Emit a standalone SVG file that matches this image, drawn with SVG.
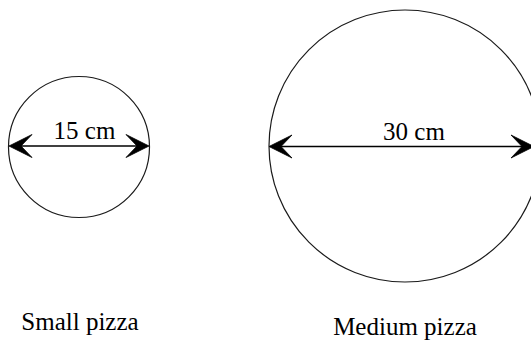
<svg xmlns="http://www.w3.org/2000/svg" width="531" height="341" viewBox="0 0 531 341">
<style>
.circ{fill:none;stroke:#1a1a1a;stroke-width:1.2}
.dim{stroke:#000;stroke-width:1.5;fill:none}
.head{fill:#000;stroke:#000;stroke-width:0.8;stroke-linejoin:miter}
text{font-family:"Liberation Serif","Times New Roman",serif;font-size:25px;fill:#000}
</style>
<defs>
<path id="ah" class="head" d="M0,0 L23,-11.5 L12,0 L23,11.5 Z"/>
</defs>
<g id="small-pizza">
<circle class="circ" cx="79" cy="147" r="70.5"/>
<text x="84.5" y="139" text-anchor="middle">15 cm</text>
<text x="80" y="330" text-anchor="middle">Small pizza</text>
</g>
<g id="medium-pizza">
<circle class="circ" cx="405" cy="146" r="136"/>
<text x="414" y="140" text-anchor="middle">30 cm</text>
<text x="405" y="335" text-anchor="middle">Medium pizza</text>
</g>
<g id="connectors">
<line class="dim" x1="12" y1="146" x2="146" y2="146"/>
<use href="#ah" transform="translate(9,146)"/>
<use href="#ah" transform="translate(149,146) rotate(180)"/>
<line class="dim" x1="272" y1="146.5" x2="530" y2="146.5"/>
<use href="#ah" transform="translate(269,146.5)"/>
<use href="#ah" transform="translate(534,146.5) rotate(180)"/>
</g>
</svg>
